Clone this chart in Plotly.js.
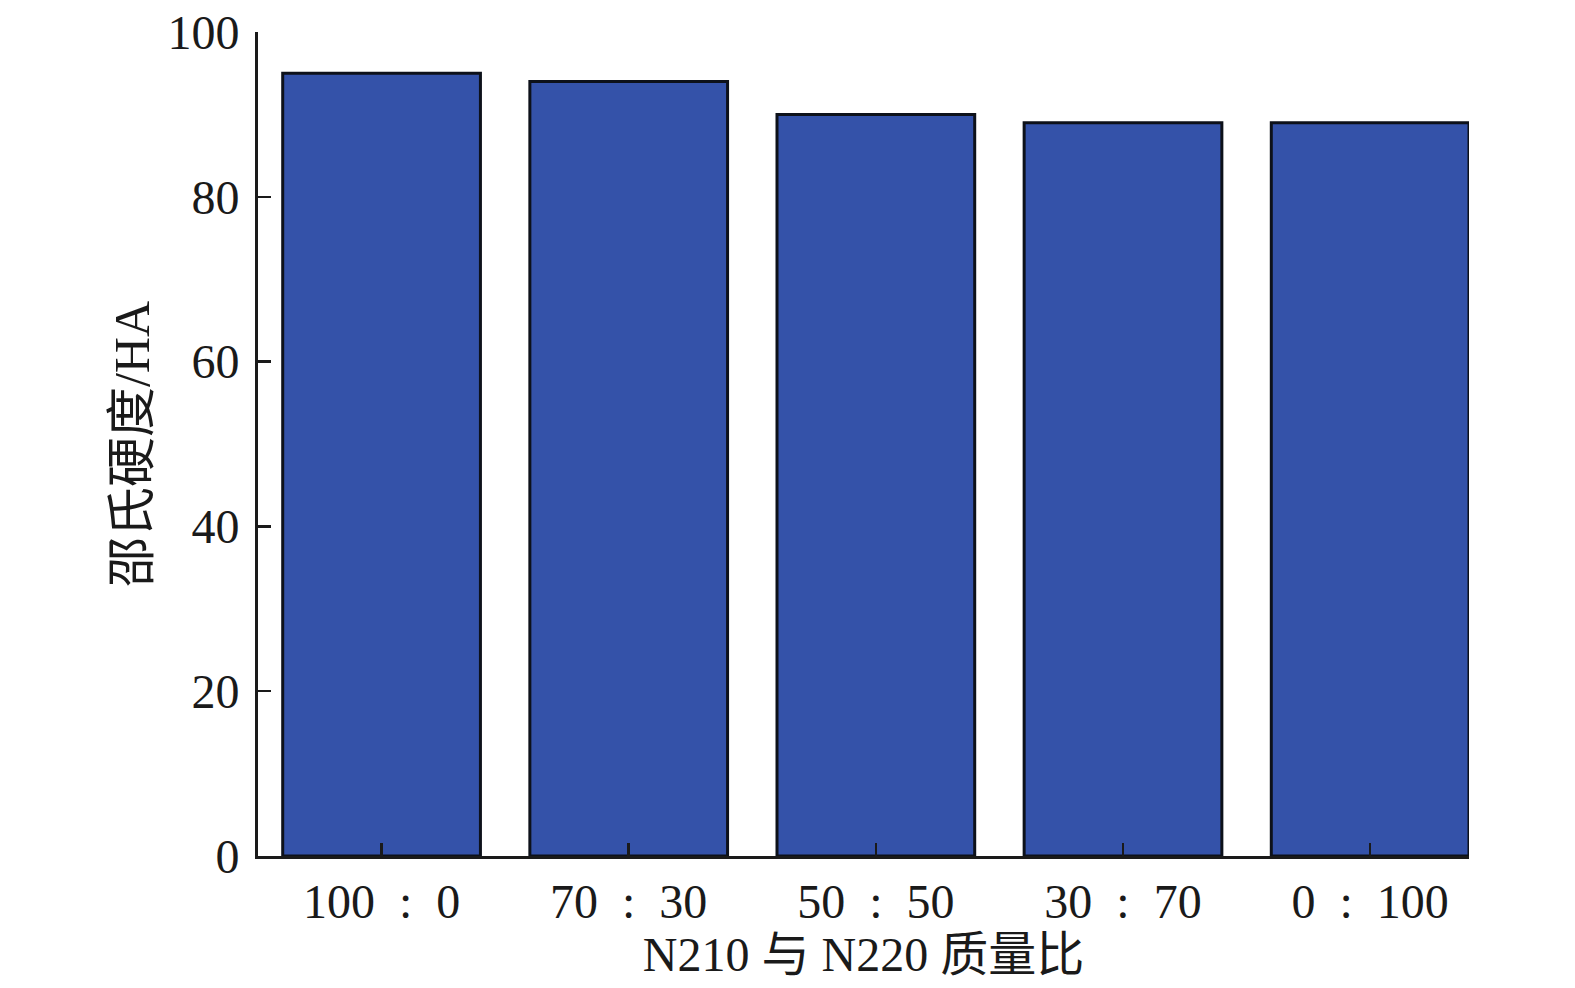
<!DOCTYPE html>
<html>
<head>
<meta charset="utf-8">
<script src="https://cdn.plot.ly/plotly-3.0.1.min.js"></script>
<style>html,body{margin:0;padding:0;background:#fff;}#chart{width:1575px;height:988px;}</style>
</head>
<body>
<div id="chart"></div>
<script>
const categories = ["100\u2002:\u20020", "70\u2002:\u200230", "50\u2002:\u200250", "30\u2002:\u200270", "0\u2002:\u2002100"];
const hardness = [95, 94, 90, 89, 89];
const yTickVals = [0, 20, 40, 60, 80, 100];
const xTitle = "N210 与 N220 质量比";
const yTitle = "邵氏硬度/HA";

const fontFam = "'Liberation Serif', 'Times New Roman', 'Noto Sans CJK SC', serif";

const trace = {
  type: "bar",
  x: categories,
  y: hardness,
  width: 0.8,
  marker: {color: "#3452a9", line: {color: "#0d111a", width: 3}},
  hoverinfo: "x+y"
};

const layout = {
  width: 1575, height: 988,
  margin: {l: 258, r: 106, t: 32, b: 132},
  paper_bgcolor: "#fff", plot_bgcolor: "#fff",
  font: {family: fontFam, size: 48, color: "#1a1a1a"},
  showlegend: false,
  xaxis: {
    type: "category",
    range: [-0.5, 4.4],
    showline: true, linecolor: "#1a1a1a", linewidth: 3,
    ticks: "inside", ticklen: 13, tickwidth: 2.5, tickcolor: "#1a1a1a",
    showgrid: false, zeroline: false,
    tickfont: {family: fontFam, size: 48, color: "#1a1a1a"},
    ticklabelstandoff: 1,
    title: {text: xTitle, font: {family: fontFam, size: 48, color: "#1a1a1a"}, standoff: 2}
  },
  yaxis: {
    range: [0, 100],
    tickvals: yTickVals,
    showline: true, linecolor: "#1a1a1a", linewidth: 3,
    ticks: "inside", ticklen: 13, tickwidth: 2.5, tickcolor: "#1a1a1a",
    showgrid: false, zeroline: false,
    tickfont: {family: fontFam, size: 48, color: "#1a1a1a"},
    ticklabelstandoff: 6,
    title: {text: yTitle, font: {family: fontFam, size: 50, color: "#1a1a1a"}, standoff: 2}
  }
};

Plotly.newPlot("chart", [trace], layout, {displayModeBar: false, staticPlot: true});
</script>
</body>
</html>
